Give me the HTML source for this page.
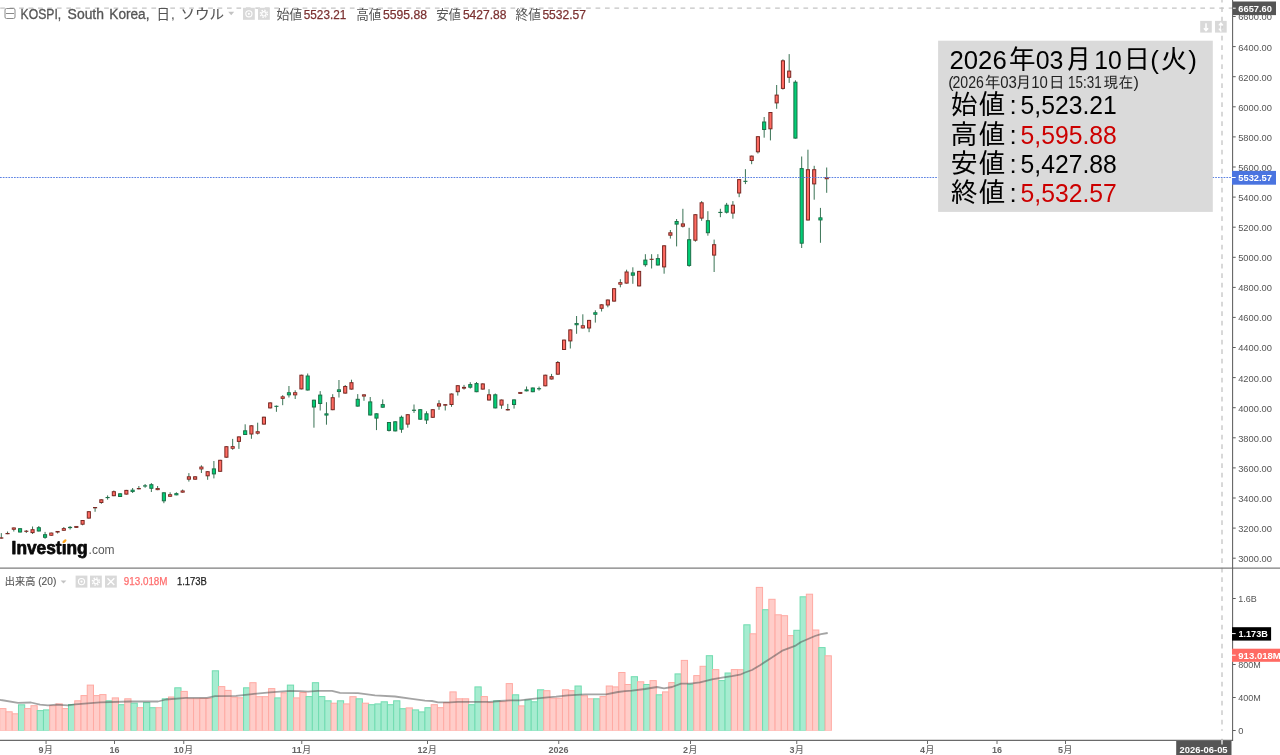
<!DOCTYPE html>
<html lang="ja"><head><meta charset="utf-8"><title>KOSPI, South Korea</title>
<style>
html,body{margin:0;padding:0;background:#fff;}
body{width:1280px;height:755px;overflow:hidden;position:relative;font-family:"Liberation Sans","Noto Sans CJK JP",sans-serif;}
svg{position:absolute;left:0;top:0;display:block}
text{font-family:"Liberation Sans","Noto Sans CJK JP",sans-serif;}
.ax{font-size:9.6px;fill:#555}
.axb{font-size:9.7px;fill:#fff;font-weight:bold}
.tm{font-size:9.8px;fill:#666;font-weight:bold;text-anchor:middle}
.lg{font-size:14px;fill:#555;stroke:#555;stroke-width:.3px}
.lk{font-size:12.8px;fill:#555}
.lv{font-size:12.4px;fill:#7b3030;stroke:#7b3030;stroke-width:.25px}
.vl{font-size:10.4px;fill:#555;stroke:#555;stroke-width:.12px}
.box text{font-family:"Liberation Sans","IPAGothic",sans-serif;fill:#000}
.rw{stroke:#3a7355;stroke-width:1}
.rb{fill:#ff6b62;stroke:#7a2823;stroke-width:1}
.gb{fill:#00cf76;stroke:#1c6e47;stroke-width:1}
.vr{fill:#ffcdc9;stroke:#ffaaa3;stroke-width:1}
.vg{fill:#a6ecd0;stroke:#70dcb0;stroke-width:1}
</style></head><body>
<svg width="1280" height="755" viewBox="0 0 1280 755">
<rect width="1280" height="755" fill="#fff"/>
<g stroke="#c4c4c4" stroke-width="1.3" stroke-dasharray="4.7 4.75" fill="none">
<line x1="0.2" y1="8.2" x2="1232" y2="8.2"/>
<line x1="1222" y1="-2.3" x2="1222" y2="740" stroke-dasharray="4.7 4.8"/>
</g>
<g>
<rect class="vr" x="-0.30" y="708.6" width="6.25" height="22.2"/>
<rect class="vr" x="5.95" y="711.8" width="6.25" height="19.0"/>
<rect class="vr" x="12.21" y="713.8" width="6.25" height="17.0"/>
<rect class="vg" x="18.46" y="704.8" width="6.25" height="26.0"/>
<rect class="vr" x="24.71" y="708.6" width="6.25" height="22.2"/>
<rect class="vr" x="30.96" y="705.7" width="6.25" height="25.1"/>
<rect class="vg" x="37.22" y="710.6" width="6.25" height="20.2"/>
<rect class="vg" x="43.47" y="709.9" width="6.25" height="20.9"/>
<rect class="vr" x="49.72" y="705.8" width="6.25" height="25.0"/>
<rect class="vr" x="55.98" y="703.9" width="6.25" height="26.9"/>
<rect class="vr" x="62.23" y="708.6" width="6.25" height="22.2"/>
<rect class="vg" x="68.48" y="704.5" width="6.25" height="26.3"/>
<rect class="vr" x="74.74" y="700.8" width="6.25" height="30.0"/>
<rect class="vr" x="80.99" y="695.6" width="6.25" height="35.2"/>
<rect class="vr" x="87.24" y="685.1" width="6.25" height="45.7"/>
<rect class="vr" x="93.50" y="695.6" width="6.25" height="35.2"/>
<rect class="vr" x="99.75" y="694.6" width="6.25" height="36.2"/>
<rect class="vg" x="106.00" y="700.8" width="6.25" height="30.0"/>
<rect class="vr" x="112.25" y="697.9" width="6.25" height="32.9"/>
<rect class="vg" x="118.51" y="704.7" width="6.25" height="26.1"/>
<rect class="vr" x="124.76" y="698.8" width="6.25" height="32.0"/>
<rect class="vg" x="131.01" y="703.2" width="6.25" height="27.6"/>
<rect class="vr" x="137.27" y="707.7" width="6.25" height="23.1"/>
<rect class="vg" x="143.52" y="702.6" width="6.25" height="28.2"/>
<rect class="vg" x="149.77" y="707.7" width="6.25" height="23.1"/>
<rect class="vr" x="156.03" y="707.7" width="6.25" height="23.1"/>
<rect class="vg" x="162.28" y="698.8" width="6.25" height="32.0"/>
<rect class="vr" x="168.53" y="697.0" width="6.25" height="33.8"/>
<rect class="vg" x="174.78" y="687.8" width="6.25" height="43.0"/>
<rect class="vr" x="181.04" y="691.4" width="6.25" height="39.4"/>
<rect class="vr" x="187.29" y="698.8" width="6.25" height="32.0"/>
<rect class="vr" x="193.54" y="698.8" width="6.25" height="32.0"/>
<rect class="vr" x="199.80" y="698.4" width="6.25" height="32.4"/>
<rect class="vr" x="206.05" y="698.4" width="6.25" height="32.4"/>
<rect class="vg" x="212.30" y="670.8" width="6.25" height="60.0"/>
<rect class="vr" x="218.56" y="686.6" width="6.25" height="44.2"/>
<rect class="vr" x="224.81" y="690.4" width="6.25" height="40.4"/>
<rect class="vr" x="231.06" y="697.2" width="6.25" height="33.6"/>
<rect class="vr" x="237.31" y="697.8" width="6.25" height="33.0"/>
<rect class="vg" x="243.57" y="687.8" width="6.25" height="43.0"/>
<rect class="vr" x="249.82" y="682.7" width="6.25" height="48.1"/>
<rect class="vr" x="256.07" y="696.7" width="6.25" height="34.1"/>
<rect class="vr" x="262.33" y="696.7" width="6.25" height="34.1"/>
<rect class="vr" x="268.58" y="688.6" width="6.25" height="42.2"/>
<rect class="vg" x="274.83" y="697.9" width="6.25" height="32.9"/>
<rect class="vr" x="281.08" y="692.8" width="6.25" height="38.0"/>
<rect class="vg" x="287.34" y="685.1" width="6.25" height="45.7"/>
<rect class="vr" x="293.59" y="697.9" width="6.25" height="32.9"/>
<rect class="vr" x="299.84" y="692.5" width="6.25" height="38.3"/>
<rect class="vg" x="306.10" y="696.6" width="6.25" height="34.2"/>
<rect class="vg" x="312.35" y="682.7" width="6.25" height="48.1"/>
<rect class="vg" x="318.60" y="696.6" width="6.25" height="34.2"/>
<rect class="vg" x="324.86" y="700.8" width="6.25" height="30.0"/>
<rect class="vr" x="331.11" y="703.2" width="6.25" height="27.6"/>
<rect class="vg" x="337.36" y="700.8" width="6.25" height="30.0"/>
<rect class="vr" x="343.62" y="703.9" width="6.25" height="26.9"/>
<rect class="vr" x="349.87" y="696.7" width="6.25" height="34.1"/>
<rect class="vg" x="356.12" y="698.8" width="6.25" height="32.0"/>
<rect class="vr" x="362.37" y="703.2" width="6.25" height="27.6"/>
<rect class="vg" x="368.63" y="704.7" width="6.25" height="26.1"/>
<rect class="vg" x="374.88" y="703.9" width="6.25" height="26.9"/>
<rect class="vg" x="381.13" y="701.8" width="6.25" height="29.0"/>
<rect class="vg" x="387.39" y="704.7" width="6.25" height="26.1"/>
<rect class="vg" x="393.64" y="700.8" width="6.25" height="30.0"/>
<rect class="vg" x="399.89" y="708.7" width="6.25" height="22.1"/>
<rect class="vr" x="406.14" y="707.9" width="6.25" height="22.9"/>
<rect class="vg" x="412.40" y="709.9" width="6.25" height="20.9"/>
<rect class="vg" x="418.65" y="711.9" width="6.25" height="18.9"/>
<rect class="vg" x="424.90" y="707.7" width="6.25" height="23.1"/>
<rect class="vr" x="431.16" y="704.7" width="6.25" height="26.1"/>
<rect class="vr" x="437.41" y="707.7" width="6.25" height="23.1"/>
<rect class="vr" x="443.66" y="702.6" width="6.25" height="28.2"/>
<rect class="vr" x="449.92" y="691.9" width="6.25" height="38.9"/>
<rect class="vr" x="456.17" y="698.8" width="6.25" height="32.0"/>
<rect class="vr" x="462.42" y="698.8" width="6.25" height="32.0"/>
<rect class="vg" x="468.68" y="704.7" width="6.25" height="26.1"/>
<rect class="vg" x="474.93" y="686.9" width="6.25" height="43.9"/>
<rect class="vr" x="481.18" y="696.6" width="6.25" height="34.2"/>
<rect class="vr" x="487.43" y="702.6" width="6.25" height="28.2"/>
<rect class="vg" x="493.69" y="700.8" width="6.25" height="30.0"/>
<rect class="vr" x="499.94" y="701.8" width="6.25" height="29.0"/>
<rect class="vr" x="506.19" y="683.6" width="6.25" height="47.2"/>
<rect class="vg" x="512.45" y="694.8" width="6.25" height="36.0"/>
<rect class="vr" x="518.70" y="705.9" width="6.25" height="24.9"/>
<rect class="vg" x="524.95" y="700.0" width="6.25" height="30.8"/>
<rect class="vg" x="531.20" y="701.8" width="6.25" height="29.0"/>
<rect class="vg" x="537.46" y="689.8" width="6.25" height="41.0"/>
<rect class="vr" x="543.71" y="690.7" width="6.25" height="40.1"/>
<rect class="vr" x="549.96" y="698.2" width="6.25" height="32.6"/>
<rect class="vr" x="556.22" y="698.2" width="6.25" height="32.6"/>
<rect class="vr" x="562.47" y="689.8" width="6.25" height="41.0"/>
<rect class="vr" x="568.72" y="690.7" width="6.25" height="40.1"/>
<rect class="vg" x="574.98" y="686.0" width="6.25" height="44.8"/>
<rect class="vr" x="581.23" y="695.8" width="6.25" height="35.0"/>
<rect class="vr" x="587.48" y="698.8" width="6.25" height="32.0"/>
<rect class="vg" x="593.73" y="698.8" width="6.25" height="32.0"/>
<rect class="vr" x="599.99" y="696.6" width="6.25" height="34.2"/>
<rect class="vr" x="606.24" y="686.0" width="6.25" height="44.8"/>
<rect class="vr" x="612.49" y="686.9" width="6.25" height="43.9"/>
<rect class="vr" x="618.75" y="672.5" width="6.25" height="58.3"/>
<rect class="vr" x="625.00" y="684.5" width="6.25" height="46.3"/>
<rect class="vg" x="631.25" y="676.7" width="6.25" height="54.1"/>
<rect class="vr" x="637.51" y="681.8" width="6.25" height="49.0"/>
<rect class="vg" x="643.76" y="684.5" width="6.25" height="46.3"/>
<rect class="vr" x="650.01" y="680.6" width="6.25" height="50.2"/>
<rect class="vg" x="656.26" y="694.8" width="6.25" height="36.0"/>
<rect class="vr" x="662.52" y="691.9" width="6.25" height="38.9"/>
<rect class="vr" x="668.77" y="682.6" width="6.25" height="48.2"/>
<rect class="vg" x="675.02" y="673.9" width="6.25" height="56.9"/>
<rect class="vr" x="681.28" y="660.4" width="6.25" height="70.4"/>
<rect class="vg" x="687.53" y="684.2" width="6.25" height="46.6"/>
<rect class="vr" x="693.78" y="675.6" width="6.25" height="55.2"/>
<rect class="vr" x="700.04" y="666.3" width="6.25" height="64.5"/>
<rect class="vg" x="706.29" y="655.7" width="6.25" height="75.1"/>
<rect class="vr" x="712.54" y="669.6" width="6.25" height="61.2"/>
<rect class="vg" x="718.79" y="680.6" width="6.25" height="50.2"/>
<rect class="vg" x="725.05" y="673.0" width="6.25" height="57.8"/>
<rect class="vr" x="731.30" y="669.6" width="6.25" height="61.2"/>
<rect class="vr" x="737.55" y="669.7" width="6.25" height="61.1"/>
<rect class="vg" x="743.81" y="624.8" width="6.25" height="106.0"/>
<rect class="vr" x="750.06" y="633.8" width="6.25" height="97.0"/>
<rect class="vr" x="756.31" y="587.4" width="6.25" height="143.4"/>
<rect class="vg" x="762.57" y="609.7" width="6.25" height="121.1"/>
<rect class="vr" x="768.82" y="599.3" width="6.25" height="131.5"/>
<rect class="vr" x="775.07" y="614.8" width="6.25" height="116.0"/>
<rect class="vr" x="781.32" y="615.7" width="6.25" height="115.1"/>
<rect class="vr" x="787.58" y="635.6" width="6.25" height="95.2"/>
<rect class="vg" x="793.83" y="630.3" width="6.25" height="100.5"/>
<rect class="vg" x="800.08" y="596.8" width="6.25" height="134.0"/>
<rect class="vr" x="806.34" y="594.2" width="6.25" height="136.6"/>
<rect class="vr" x="812.59" y="630.0" width="6.25" height="100.8"/>
<rect class="vg" x="818.84" y="647.6" width="6.25" height="83.2"/>
<rect class="vr" x="825.10" y="655.8" width="6.25" height="75.0"/>
</g>
<rect x="0" y="730.8" width="1232" height="5" fill="#fff"/>
<polyline points="0.0,699.8 1.0,700.0 18.0,702.8 31.0,702.5 40.0,704.7 48.0,705.3 56.0,704.7 68.0,705.3 75.0,704.4 100.0,702.4 130.0,701.5 158.0,701.5 166.0,699.5 186.0,697.9 207.0,697.9 215.0,696.2 236.0,695.9 250.0,694.3 270.0,692.3 290.0,690.9 300.0,691.1 308.0,691.7 318.0,690.8 332.0,690.8 340.0,692.9 358.0,693.1 375.0,695.3 395.0,696.5 412.0,698.9 425.0,700.7 432.0,701.0 438.0,702.4 450.0,702.4 458.0,701.8 475.0,701.8 490.0,701.8 500.0,701.0 510.0,700.4 520.0,700.4 530.0,699.1 545.0,697.7 556.0,696.7 568.0,695.3 585.0,694.3 606.0,694.3 618.0,692.0 625.0,691.1 632.0,690.7 645.0,689.0 657.0,687.0 664.0,688.3 672.0,687.0 681.0,683.7 690.0,683.7 700.0,682.4 712.0,679.3 722.0,677.7 732.0,676.2 740.0,674.7 745.0,672.5 752.0,670.0 760.0,665.2 770.0,658.7 783.0,650.3 795.0,645.9 801.0,642.0 808.0,639.0 815.0,636.0 821.0,634.2 827.7,633.0" fill="none" stroke="#505050" stroke-opacity="0.52" stroke-width="1.8" stroke-linejoin="round"/>
<g>
<line class="rw" x1="1.30" x2="1.30" y1="533.1" y2="538.6"/>
<rect class="rb" style="stroke-width:.85" x="-0.32" y="537.8" width="3.24" height="0.4"/>
<line class="rw" x1="7.55" x2="7.55" y1="531.5" y2="534.2"/>
<rect class="rb" style="stroke-width:.85" x="5.93" y="533.4" width="3.24" height="0.4"/>
<line class="rw" x1="13.81" x2="13.81" y1="527.5" y2="531.5"/>
<rect class="rb" style="stroke-width:.85" x="12.19" y="527.9" width="3.24" height="1.4"/>
<line class="rw" x1="20.06" x2="20.06" y1="528.2" y2="532.5"/>
<rect class="gb" x="18.51" y="528.7" width="3.1" height="3.3"/>
<line class="rw" x1="26.31" x2="26.31" y1="530.0" y2="533.0"/>
<rect class="rb" style="stroke-width:.85" x="24.69" y="531.1" width="3.24" height="0.3"/>
<line class="rw" x1="32.56" x2="32.56" y1="526.5" y2="534.0"/>
<rect class="rb" x="31.01" y="529.7" width="3.1" height="2.9"/>
<line class="rw" x1="38.82" x2="38.82" y1="526.0" y2="531.5"/>
<rect class="gb" x="37.27" y="527.7" width="3.1" height="3.3"/>
<line class="rw" x1="45.07" x2="45.07" y1="531.9" y2="538.8"/>
<rect class="gb" x="43.52" y="534.7" width="3.1" height="2.6"/>
<line class="rw" x1="51.32" x2="51.32" y1="532.6" y2="535.8"/>
<rect class="rb" style="stroke-width:.85" x="49.70" y="533.0" width="3.24" height="2.3"/>
<line class="rw" x1="57.58" x2="57.58" y1="531.0" y2="533.5"/>
<rect class="rb" style="stroke-width:.85" x="55.96" y="531.4" width="3.24" height="0.7"/>
<line class="rw" x1="63.83" x2="63.83" y1="527.0" y2="530.8"/>
<rect class="rb" style="stroke-width:.85" x="62.21" y="528.6" width="3.24" height="1.7"/>
<line class="rw" x1="70.08" x2="70.08" y1="526.0" y2="529.5"/>
<rect class="gb" style="stroke-width:.85" x="68.46" y="527.3" width="3.24" height="0.4"/>
<line class="rw" x1="76.34" x2="76.34" y1="526.0" y2="528.0"/>
<rect class="rb" style="stroke-width:.85" x="74.72" y="526.4" width="3.24" height="1.1"/>
<line class="rw" x1="82.59" x2="82.59" y1="520.0" y2="525.3"/>
<rect class="rb" x="81.04" y="520.5" width="3.1" height="3.7"/>
<line class="rw" x1="88.84" x2="88.84" y1="511.2" y2="518.6"/>
<rect class="rb" x="87.29" y="511.7" width="3.1" height="6.4"/>
<line class="rw" x1="95.09" x2="95.09" y1="507.1" y2="511.8"/>
<rect class="rb" style="stroke-width:.85" x="93.47" y="507.5" width="3.24" height="0.4"/>
<line class="rw" x1="101.35" x2="101.35" y1="499.3" y2="503.8"/>
<rect class="rb" x="99.80" y="499.8" width="3.1" height="2.7"/>
<line class="rw" x1="107.60" x2="107.60" y1="495.4" y2="499.7"/>
<rect class="gb" style="stroke-width:.85" x="105.98" y="497.4" width="3.24" height="0.3"/>
<line class="rw" x1="113.85" x2="113.85" y1="490.5" y2="496.2"/>
<rect class="rb" x="112.30" y="491.7" width="3.1" height="4.0"/>
<line class="rw" x1="120.11" x2="120.11" y1="493.3" y2="497.0"/>
<rect class="gb" x="118.56" y="493.8" width="3.1" height="2.7"/>
<line class="rw" x1="126.36" x2="126.36" y1="489.9" y2="494.6"/>
<rect class="rb" x="124.81" y="490.4" width="3.1" height="3.7"/>
<line class="rw" x1="132.61" x2="132.61" y1="488.0" y2="493.0"/>
<rect class="gb" style="stroke-width:.85" x="130.99" y="490.1" width="3.24" height="1.5"/>
<line class="rw" x1="138.87" x2="138.87" y1="486.0" y2="489.4"/>
<rect class="rb" style="stroke-width:.85" x="137.25" y="488.5" width="3.24" height="0.4"/>
<line class="rw" x1="145.12" x2="145.12" y1="484.0" y2="487.8"/>
<rect class="gb" style="stroke-width:.85" x="143.50" y="485.8" width="3.24" height="0.3"/>
<line class="rw" x1="151.37" x2="151.37" y1="483.1" y2="492.0"/>
<rect class="gb" x="149.82" y="484.7" width="3.1" height="3.6"/>
<line class="rw" x1="157.62" x2="157.62" y1="486.0" y2="490.2"/>
<rect class="rb" style="stroke-width:.85" x="156.00" y="488.5" width="3.24" height="1.2"/>
<line class="rw" x1="163.88" x2="163.88" y1="492.3" y2="503.2"/>
<rect class="gb" x="162.33" y="492.8" width="3.1" height="8.0"/>
<line class="rw" x1="170.13" x2="170.13" y1="492.3" y2="496.8"/>
<rect class="rb" style="stroke-width:.85" x="168.51" y="494.7" width="3.24" height="1.6"/>
<line class="rw" x1="176.38" x2="176.38" y1="492.3" y2="495.3"/>
<rect class="gb" style="stroke-width:.85" x="174.76" y="493.6" width="3.24" height="1.3"/>
<line class="rw" x1="182.64" x2="182.64" y1="489.5" y2="492.7"/>
<rect class="rb" style="stroke-width:.85" x="181.02" y="490.9" width="3.24" height="1.3"/>
<line class="rw" x1="188.89" x2="188.89" y1="473.1" y2="481.6"/>
<rect class="rb" x="187.34" y="476.8" width="3.1" height="2.4"/>
<line class="rw" x1="195.14" x2="195.14" y1="476.2" y2="479.6"/>
<rect class="rb" x="193.59" y="476.8" width="3.1" height="2.4"/>
<line class="rw" x1="201.40" x2="201.40" y1="465.3" y2="473.0"/>
<rect class="rb" style="stroke-width:.85" x="199.78" y="467.0" width="3.24" height="2.0"/>
<line class="rw" x1="207.65" x2="207.65" y1="471.2" y2="479.8"/>
<rect class="rb" x="206.10" y="471.7" width="3.1" height="4.1"/>
<line class="rw" x1="213.90" x2="213.90" y1="461.0" y2="478.4"/>
<rect class="gb" x="212.35" y="468.9" width="3.1" height="5.0"/>
<line class="rw" x1="220.16" x2="220.16" y1="459.8" y2="471.8"/>
<rect class="rb" x="218.61" y="460.3" width="3.1" height="11.0"/>
<line class="rw" x1="226.41" x2="226.41" y1="446.2" y2="457.7"/>
<rect class="rb" x="224.86" y="446.7" width="3.1" height="10.5"/>
<line class="rw" x1="232.66" x2="232.66" y1="438.9" y2="449.8"/>
<rect class="rb" style="stroke-width:.85" x="231.04" y="446.6" width="3.24" height="1.7"/>
<line class="rw" x1="238.91" x2="238.91" y1="436.4" y2="448.9"/>
<rect class="rb" x="237.36" y="436.9" width="3.1" height="4.5"/>
<line class="rw" x1="245.17" x2="245.17" y1="424.3" y2="435.0"/>
<rect class="gb" x="243.62" y="430.8" width="3.1" height="3.7"/>
<line class="rw" x1="251.42" x2="251.42" y1="425.3" y2="438.8"/>
<rect class="rb" x="249.87" y="425.8" width="3.1" height="8.2"/>
<line class="rw" x1="257.67" x2="257.67" y1="422.7" y2="434.5"/>
<rect class="rb" style="stroke-width:.85" x="256.05" y="431.7" width="3.24" height="1.5"/>
<line class="rw" x1="263.93" x2="263.93" y1="416.7" y2="424.6"/>
<rect class="rb" x="262.38" y="417.2" width="3.1" height="6.9"/>
<line class="rw" x1="270.18" x2="270.18" y1="402.4" y2="408.4"/>
<rect class="rb" x="268.63" y="402.9" width="3.1" height="5.0"/>
<line class="rw" x1="276.43" x2="276.43" y1="405.5" y2="411.8"/>
<rect class="gb" style="stroke-width:.85" x="274.81" y="406.2" width="3.24" height="0.3"/>
<line class="rw" x1="282.69" x2="282.69" y1="395.2" y2="405.2"/>
<rect class="rb" style="stroke-width:.85" x="281.06" y="396.8" width="3.24" height="1.6"/>
<line class="rw" x1="288.94" x2="288.94" y1="386.0" y2="397.5"/>
<rect class="gb" style="stroke-width:.85" x="287.32" y="392.7" width="3.24" height="2.2"/>
<line class="rw" x1="295.19" x2="295.19" y1="390.3" y2="399.0"/>
<rect class="rb" style="stroke-width:.85" x="293.57" y="392.7" width="3.24" height="2.2"/>
<line class="rw" x1="301.44" x2="301.44" y1="374.7" y2="389.4"/>
<rect class="rb" x="299.89" y="375.2" width="3.1" height="13.7"/>
<line class="rw" x1="307.70" x2="307.70" y1="373.5" y2="390.5"/>
<rect class="gb" x="306.15" y="376.0" width="3.1" height="14.0"/>
<line class="rw" x1="313.95" x2="313.95" y1="399.7" y2="427.7"/>
<rect class="gb" x="312.40" y="400.2" width="3.1" height="6.8"/>
<line class="rw" x1="320.20" x2="320.20" y1="391.1" y2="410.5"/>
<rect class="gb" x="318.65" y="395.1" width="3.1" height="8.4"/>
<line class="rw" x1="326.46" x2="326.46" y1="402.2" y2="424.7"/>
<rect class="gb" style="stroke-width:.85" x="324.84" y="413.8" width="3.24" height="1.3"/>
<line class="rw" x1="332.71" x2="332.71" y1="394.2" y2="410.2"/>
<rect class="rb" x="331.16" y="397.7" width="3.1" height="12.0"/>
<line class="rw" x1="338.96" x2="338.96" y1="380.0" y2="397.5"/>
<rect class="gb" style="stroke-width:.85" x="337.34" y="389.8" width="3.24" height="1.8"/>
<line class="rw" x1="345.22" x2="345.22" y1="385.0" y2="393.6"/>
<rect class="rb" x="343.67" y="386.5" width="3.1" height="6.6"/>
<line class="rw" x1="351.47" x2="351.47" y1="379.7" y2="389.6"/>
<rect class="rb" x="349.92" y="382.7" width="3.1" height="6.4"/>
<line class="rw" x1="357.72" x2="357.72" y1="394.1" y2="406.6"/>
<rect class="gb" x="356.17" y="399.3" width="3.1" height="6.8"/>
<line class="rw" x1="363.97" x2="363.97" y1="394.4" y2="400.8"/>
<rect class="rb" style="stroke-width:.85" x="362.35" y="394.8" width="3.24" height="1.3"/>
<line class="rw" x1="370.23" x2="370.23" y1="397.0" y2="415.5"/>
<rect class="gb" x="368.68" y="401.9" width="3.1" height="13.1"/>
<line class="rw" x1="376.48" x2="376.48" y1="413.3" y2="430.1"/>
<rect class="gb" x="374.93" y="413.8" width="3.1" height="4.3"/>
<line class="rw" x1="382.73" x2="382.73" y1="399.4" y2="407.7"/>
<rect class="gb" x="381.18" y="404.6" width="3.1" height="2.6"/>
<line class="rw" x1="388.99" x2="388.99" y1="422.0" y2="431.5"/>
<rect class="gb" x="387.44" y="422.5" width="3.1" height="7.9"/>
<line class="rw" x1="395.24" x2="395.24" y1="421.2" y2="431.4"/>
<rect class="gb" x="393.69" y="421.8" width="3.1" height="9.1"/>
<line class="rw" x1="401.49" x2="401.49" y1="415.6" y2="432.8"/>
<rect class="gb" x="399.94" y="417.3" width="3.1" height="11.9"/>
<line class="rw" x1="407.75" x2="407.75" y1="414.2" y2="427.7"/>
<rect class="rb" x="406.19" y="414.7" width="3.1" height="9.4"/>
<line class="rw" x1="414.00" x2="414.00" y1="404.5" y2="412.9"/>
<rect class="gb" style="stroke-width:.85" x="412.38" y="410.1" width="3.24" height="0.3"/>
<line class="rw" x1="420.25" x2="420.25" y1="409.2" y2="419.7"/>
<rect class="gb" x="418.70" y="409.7" width="3.1" height="9.5"/>
<line class="rw" x1="426.50" x2="426.50" y1="411.3" y2="424.0"/>
<rect class="gb" x="424.95" y="413.8" width="3.1" height="6.2"/>
<line class="rw" x1="432.76" x2="432.76" y1="409.2" y2="417.8"/>
<rect class="rb" x="431.21" y="409.7" width="3.1" height="7.6"/>
<line class="rw" x1="439.01" x2="439.01" y1="400.2" y2="409.8"/>
<rect class="rb" x="437.46" y="403.8" width="3.1" height="2.3"/>
<line class="rw" x1="445.26" x2="445.26" y1="404.2" y2="410.5"/>
<rect class="rb" style="stroke-width:.85" x="443.64" y="404.6" width="3.24" height="0.6"/>
<line class="rw" x1="451.52" x2="451.52" y1="393.5" y2="406.8"/>
<rect class="rb" x="449.97" y="394.0" width="3.1" height="10.5"/>
<line class="rw" x1="457.77" x2="457.77" y1="385.2" y2="395.6"/>
<rect class="rb" x="456.22" y="385.7" width="3.1" height="6.0"/>
<line class="rw" x1="464.02" x2="464.02" y1="384.9" y2="389.6"/>
<rect class="rb" style="stroke-width:.85" x="462.40" y="387.3" width="3.24" height="0.9"/>
<line class="rw" x1="470.28" x2="470.28" y1="382.2" y2="388.6"/>
<rect class="gb" x="468.73" y="384.6" width="3.1" height="2.6"/>
<line class="rw" x1="476.53" x2="476.53" y1="382.0" y2="392.2"/>
<rect class="gb" x="474.98" y="383.6" width="3.1" height="8.1"/>
<line class="rw" x1="482.78" x2="482.78" y1="383.4" y2="389.6"/>
<rect class="rb" x="481.23" y="383.9" width="3.1" height="5.2"/>
<line class="rw" x1="489.03" x2="489.03" y1="389.2" y2="400.5"/>
<rect class="rb" x="487.48" y="394.8" width="3.1" height="5.2"/>
<line class="rw" x1="495.29" x2="495.29" y1="393.5" y2="408.4"/>
<rect class="gb" x="493.74" y="394.8" width="3.1" height="13.1"/>
<line class="rw" x1="501.54" x2="501.54" y1="399.5" y2="408.8"/>
<rect class="rb" x="499.99" y="400.0" width="3.1" height="5.1"/>
<line class="rw" x1="507.79" x2="507.79" y1="403.9" y2="410.5"/>
<rect class="rb" style="stroke-width:.85" x="506.17" y="409.5" width="3.24" height="0.5"/>
<line class="rw" x1="514.05" x2="514.05" y1="399.4" y2="408.6"/>
<rect class="gb" x="512.50" y="399.9" width="3.1" height="4.6"/>
<line class="rw" x1="520.30" x2="520.30" y1="392.0" y2="394.0"/>
<rect class="rb" style="stroke-width:.85" x="518.68" y="392.4" width="3.24" height="1.1"/>
<line class="rw" x1="526.55" x2="526.55" y1="386.5" y2="391.4"/>
<rect class="gb" style="stroke-width:.85" x="524.93" y="389.8" width="3.24" height="1.1"/>
<line class="rw" x1="532.80" x2="532.80" y1="387.5" y2="392.2"/>
<rect class="gb" x="531.25" y="388.0" width="3.1" height="3.7"/>
<line class="rw" x1="539.06" x2="539.06" y1="386.6" y2="390.6"/>
<rect class="gb" style="stroke-width:.85" x="537.44" y="388.6" width="3.24" height="0.3"/>
<line class="rw" x1="545.31" x2="545.31" y1="374.7" y2="386.3"/>
<rect class="rb" x="543.76" y="375.2" width="3.1" height="10.6"/>
<line class="rw" x1="551.56" x2="551.56" y1="373.9" y2="379.5"/>
<rect class="rb" x="550.01" y="376.7" width="3.1" height="2.3"/>
<line class="rw" x1="557.82" x2="557.82" y1="361.0" y2="374.7"/>
<rect class="rb" x="556.27" y="362.5" width="3.1" height="11.7"/>
<line class="rw" x1="564.07" x2="564.07" y1="339.6" y2="350.0"/>
<rect class="rb" x="562.52" y="340.1" width="3.1" height="9.4"/>
<line class="rw" x1="570.32" x2="570.32" y1="329.4" y2="348.5"/>
<rect class="rb" x="568.77" y="329.9" width="3.1" height="11.0"/>
<line class="rw" x1="576.58" x2="576.58" y1="316.0" y2="333.8"/>
<rect class="gb" style="stroke-width:.85" x="574.96" y="323.5" width="3.24" height="1.3"/>
<line class="rw" x1="582.83" x2="582.83" y1="314.3" y2="328.5"/>
<rect class="rb" style="stroke-width:.85" x="581.21" y="325.7" width="3.24" height="2.3"/>
<line class="rw" x1="589.08" x2="589.08" y1="319.9" y2="332.2"/>
<rect class="rb" x="587.53" y="320.4" width="3.1" height="7.6"/>
<line class="rw" x1="595.33" x2="595.33" y1="310.3" y2="322.6"/>
<rect class="gb" style="stroke-width:.85" x="593.71" y="312.7" width="3.24" height="1.6"/>
<line class="rw" x1="601.59" x2="601.59" y1="304.3" y2="311.5"/>
<rect class="rb" x="600.04" y="304.8" width="3.1" height="3.5"/>
<line class="rw" x1="607.84" x2="607.84" y1="299.5" y2="307.3"/>
<rect class="rb" x="606.29" y="300.0" width="3.1" height="5.0"/>
<line class="rw" x1="614.09" x2="614.09" y1="288.2" y2="301.6"/>
<rect class="rb" x="612.54" y="288.7" width="3.1" height="12.4"/>
<line class="rw" x1="620.35" x2="620.35" y1="279.2" y2="287.3"/>
<rect class="rb" style="stroke-width:.85" x="618.73" y="282.6" width="3.24" height="1.6"/>
<line class="rw" x1="626.60" x2="626.60" y1="269.7" y2="283.6"/>
<rect class="rb" x="625.05" y="272.0" width="3.1" height="11.1"/>
<line class="rw" x1="632.85" x2="632.85" y1="267.3" y2="283.8"/>
<rect class="gb" x="631.30" y="272.9" width="3.1" height="2.3"/>
<line class="rw" x1="639.11" x2="639.11" y1="270.9" y2="286.4"/>
<rect class="rb" x="637.56" y="271.4" width="3.1" height="14.5"/>
<line class="rw" x1="645.36" x2="645.36" y1="254.2" y2="266.7"/>
<rect class="gb" x="643.81" y="260.1" width="3.1" height="4.6"/>
<line class="rw" x1="651.61" x2="651.61" y1="254.2" y2="268.5"/>
<rect class="rb" style="stroke-width:.85" x="649.99" y="259.2" width="3.24" height="0.3"/>
<line class="rw" x1="657.87" x2="657.87" y1="254.2" y2="265.5"/>
<rect class="gb" x="656.32" y="258.6" width="3.1" height="6.4"/>
<line class="rw" x1="664.12" x2="664.12" y1="245.3" y2="273.7"/>
<rect class="rb" x="662.57" y="245.8" width="3.1" height="21.1"/>
<line class="rw" x1="670.37" x2="670.37" y1="230.0" y2="238.6"/>
<rect class="rb" x="668.82" y="232.8" width="3.1" height="2.4"/>
<line class="rw" x1="676.62" x2="676.62" y1="219.0" y2="246.4"/>
<rect class="gb" x="675.07" y="221.5" width="3.1" height="2.6"/>
<line class="rw" x1="682.88" x2="682.88" y1="208.8" y2="227.5"/>
<rect class="rb" x="681.33" y="223.9" width="3.1" height="2.3"/>
<line class="rw" x1="689.13" x2="689.13" y1="227.8" y2="266.8"/>
<rect class="gb" x="687.58" y="239.7" width="3.1" height="25.7"/>
<line class="rw" x1="695.38" x2="695.38" y1="214.2" y2="241.7"/>
<rect class="rb" x="693.83" y="214.7" width="3.1" height="25.5"/>
<line class="rw" x1="701.64" x2="701.64" y1="201.1" y2="220.8"/>
<rect class="rb" x="700.09" y="202.8" width="3.1" height="15.3"/>
<line class="rw" x1="707.89" x2="707.89" y1="211.2" y2="235.7"/>
<rect class="gb" x="706.34" y="220.7" width="3.1" height="12.0"/>
<line class="rw" x1="714.14" x2="714.14" y1="239.6" y2="272.0"/>
<rect class="rb" x="712.59" y="244.7" width="3.1" height="10.4"/>
<line class="rw" x1="720.39" x2="720.39" y1="208.8" y2="217.2"/>
<rect class="gb" style="stroke-width:.85" x="718.77" y="212.3" width="3.24" height="0.3"/>
<line class="rw" x1="726.65" x2="726.65" y1="202.9" y2="213.5"/>
<rect class="gb" x="725.10" y="205.2" width="3.1" height="7.0"/>
<line class="rw" x1="732.90" x2="732.90" y1="201.1" y2="218.7"/>
<rect class="rb" x="731.35" y="205.2" width="3.1" height="7.9"/>
<line class="rw" x1="739.15" x2="739.15" y1="179.1" y2="197.2"/>
<rect class="rb" x="737.60" y="179.6" width="3.1" height="13.4"/>
<line class="rw" x1="745.41" x2="745.41" y1="169.2" y2="184.1"/>
<rect class="gb" style="stroke-width:.85" x="743.79" y="181.2" width="3.24" height="0.3"/>
<line class="rw" x1="751.66" x2="751.66" y1="155.6" y2="164.2"/>
<rect class="rb" x="750.11" y="156.1" width="3.1" height="4.4"/>
<line class="rw" x1="757.91" x2="757.91" y1="136.2" y2="153.5"/>
<rect class="rb" x="756.36" y="136.7" width="3.1" height="15.1"/>
<line class="rw" x1="764.17" x2="764.17" y1="117.0" y2="137.7"/>
<rect class="gb" x="762.62" y="122.0" width="3.1" height="7.5"/>
<line class="rw" x1="770.42" x2="770.42" y1="112.0" y2="140.4"/>
<rect class="rb" x="768.87" y="112.5" width="3.1" height="16.3"/>
<line class="rw" x1="776.67" x2="776.67" y1="85.0" y2="108.8"/>
<rect class="rb" x="775.12" y="95.1" width="3.1" height="7.8"/>
<line class="rw" x1="782.92" x2="782.92" y1="59.3" y2="89.6"/>
<rect class="rb" x="781.38" y="60.8" width="3.1" height="27.6"/>
<line class="rw" x1="789.18" x2="789.18" y1="54.1" y2="82.9"/>
<rect class="rb" x="787.63" y="71.1" width="3.1" height="6.2"/>
<line class="rw" x1="795.43" x2="795.43" y1="80.3" y2="138.6"/>
<rect class="gb" x="793.88" y="82.2" width="3.1" height="55.9"/>
<line class="rw" x1="801.68" x2="801.68" y1="156.5" y2="248.0"/>
<rect class="gb" x="800.13" y="168.6" width="3.1" height="74.6"/>
<line class="rw" x1="807.94" x2="807.94" y1="149.7" y2="220.5"/>
<rect class="rb" x="806.39" y="169.7" width="3.1" height="50.3"/>
<line class="rw" x1="814.19" x2="814.19" y1="165.8" y2="199.7"/>
<rect class="rb" x="812.64" y="169.7" width="3.1" height="14.2"/>
<line class="rw" x1="820.44" x2="820.44" y1="207.9" y2="242.8"/>
<rect class="gb" style="stroke-width:.85" x="818.82" y="217.8" width="3.24" height="2.2"/>
<line class="rw" x1="826.70" x2="826.70" y1="167.5" y2="192.8"/>
<rect class="rb" style="stroke-width:.85" x="825.08" y="177.7" width="3.24" height="1.1"/>
</g>
<line x1="0" y1="177.5" x2="1232" y2="177.5" stroke="#4a74e0" stroke-opacity=".9" stroke-width="1" stroke-dasharray="1.7 1.1"/>
<line x1="0" y1="568.1" x2="1280" y2="568.1" stroke="#7d7d7d" stroke-width="1.2"/>
<line x1="0" y1="740.4" x2="1233" y2="740.4" stroke="#6a6a6a" stroke-width="1.1"/>
<line x1="1232.6" y1="0" x2="1232.6" y2="740.9" stroke="#5e5e5e" stroke-width="1.05"/>
<g stroke="#5e5e5e" stroke-width="1">
<line x1="1233" x2="1235.7" y1="558.2" y2="558.2"/>
<line x1="1233" x2="1235.7" y1="528.1" y2="528.1"/>
<line x1="1233" x2="1235.7" y1="498.0" y2="498.0"/>
<line x1="1233" x2="1235.7" y1="467.9" y2="467.9"/>
<line x1="1233" x2="1235.7" y1="437.8" y2="437.8"/>
<line x1="1233" x2="1235.7" y1="407.7" y2="407.7"/>
<line x1="1233" x2="1235.7" y1="377.6" y2="377.6"/>
<line x1="1233" x2="1235.7" y1="347.5" y2="347.5"/>
<line x1="1233" x2="1235.7" y1="317.4" y2="317.4"/>
<line x1="1233" x2="1235.7" y1="287.4" y2="287.4"/>
<line x1="1233" x2="1235.7" y1="257.3" y2="257.3"/>
<line x1="1233" x2="1235.7" y1="227.2" y2="227.2"/>
<line x1="1233" x2="1235.7" y1="197.1" y2="197.1"/>
<line x1="1233" x2="1235.7" y1="167.0" y2="167.0"/>
<line x1="1233" x2="1235.7" y1="136.9" y2="136.9"/>
<line x1="1233" x2="1235.7" y1="106.8" y2="106.8"/>
<line x1="1233" x2="1235.7" y1="76.7" y2="76.7"/>
<line x1="1233" x2="1235.7" y1="46.6" y2="46.6"/>
<line x1="1233" x2="1235.7" y1="16.5" y2="16.5"/>
<line x1="1233" x2="1235.7" y1="730.5" y2="730.5"/>
<line x1="1233" x2="1235.7" y1="697.5" y2="697.5"/>
<line x1="1233" x2="1235.7" y1="664.5" y2="664.5"/>
<line x1="1233" x2="1235.7" y1="631.5" y2="631.5"/>
<line x1="1233" x2="1235.7" y1="598.5" y2="598.5"/>
</g>
<text class="ax" x="1238.2" y="562.1" textLength="33.7" lengthAdjust="spacingAndGlyphs">3000.00</text>
<text class="ax" x="1238.2" y="532.0" textLength="33.7" lengthAdjust="spacingAndGlyphs">3200.00</text>
<text class="ax" x="1238.2" y="501.9" textLength="33.7" lengthAdjust="spacingAndGlyphs">3400.00</text>
<text class="ax" x="1238.2" y="471.8" textLength="33.7" lengthAdjust="spacingAndGlyphs">3600.00</text>
<text class="ax" x="1238.2" y="441.7" textLength="33.7" lengthAdjust="spacingAndGlyphs">3800.00</text>
<text class="ax" x="1238.2" y="411.6" textLength="33.7" lengthAdjust="spacingAndGlyphs">4000.00</text>
<text class="ax" x="1238.2" y="381.5" textLength="33.7" lengthAdjust="spacingAndGlyphs">4200.00</text>
<text class="ax" x="1238.2" y="351.4" textLength="33.7" lengthAdjust="spacingAndGlyphs">4400.00</text>
<text class="ax" x="1238.2" y="321.3" textLength="33.7" lengthAdjust="spacingAndGlyphs">4600.00</text>
<text class="ax" x="1238.2" y="291.3" textLength="33.7" lengthAdjust="spacingAndGlyphs">4800.00</text>
<text class="ax" x="1238.2" y="261.2" textLength="33.7" lengthAdjust="spacingAndGlyphs">5000.00</text>
<text class="ax" x="1238.2" y="231.1" textLength="33.7" lengthAdjust="spacingAndGlyphs">5200.00</text>
<text class="ax" x="1238.2" y="201.0" textLength="33.7" lengthAdjust="spacingAndGlyphs">5400.00</text>
<text class="ax" x="1238.2" y="170.9" textLength="33.7" lengthAdjust="spacingAndGlyphs">5600.00</text>
<text class="ax" x="1238.2" y="140.8" textLength="33.7" lengthAdjust="spacingAndGlyphs">5800.00</text>
<text class="ax" x="1238.2" y="110.7" textLength="33.7" lengthAdjust="spacingAndGlyphs">6000.00</text>
<text class="ax" x="1238.2" y="80.6" textLength="33.7" lengthAdjust="spacingAndGlyphs">6200.00</text>
<text class="ax" x="1238.2" y="50.5" textLength="33.7" lengthAdjust="spacingAndGlyphs">6400.00</text>
<text class="ax" x="1238.2" y="20.4" textLength="33.7" lengthAdjust="spacingAndGlyphs">6600.00</text>
<text class="ax" x="1238.3" y="734.4" textLength="5.2" lengthAdjust="spacingAndGlyphs">0</text>
<text class="ax" x="1238.3" y="701.4" textLength="22.6" lengthAdjust="spacingAndGlyphs">400M</text>
<text class="ax" x="1238.3" y="668.4" textLength="22.6" lengthAdjust="spacingAndGlyphs">800M</text>
<text class="ax" x="1238.3" y="602.4" textLength="18.5" lengthAdjust="spacingAndGlyphs">1.6B</text>
<g stroke="#6a6a6a" stroke-width="1">
<line x1="46.05" x2="46.05" y1="740.4" y2="744"/>
<line x1="114.5" x2="114.5" y1="740.4" y2="744"/>
<line x1="183.75" x2="183.75" y1="740.4" y2="744"/>
<line x1="301.75" x2="301.75" y1="740.4" y2="744"/>
<line x1="427.5" x2="427.5" y1="740.4" y2="744"/>
<line x1="558.75" x2="558.75" y1="740.4" y2="744"/>
<line x1="690.5" x2="690.5" y1="740.4" y2="744"/>
<line x1="796.75" x2="796.75" y1="740.4" y2="744"/>
<line x1="927.5" x2="927.5" y1="740.4" y2="744"/>
<line x1="997" x2="997" y1="740.4" y2="744"/>
<line x1="1065.5" x2="1065.5" y1="740.4" y2="744"/>
</g>
<text class="tm" y="753.2" style="text-anchor:start"><tspan x="38.6" textLength="5.0" lengthAdjust="spacingAndGlyphs">9</tspan><tspan x="44.1" style="font-size:8.8px;font-weight:500">月</tspan></text>
<text class="tm" y="753.2" style="text-anchor:start"><tspan x="109.4" textLength="10.0" lengthAdjust="spacingAndGlyphs">16</tspan></text>
<text class="tm" y="753.2" style="text-anchor:start"><tspan x="173.8" textLength="10.0" lengthAdjust="spacingAndGlyphs">10</tspan><tspan x="184.3" style="font-size:8.8px;font-weight:500">月</tspan></text>
<text class="tm" y="753.2" style="text-anchor:start"><tspan x="291.8" textLength="10.0" lengthAdjust="spacingAndGlyphs">11</tspan><tspan x="302.3" style="font-size:8.8px;font-weight:500">月</tspan></text>
<text class="tm" y="753.2" style="text-anchor:start"><tspan x="417.6" textLength="10.0" lengthAdjust="spacingAndGlyphs">12</tspan><tspan x="428.1" style="font-size:8.8px;font-weight:500">月</tspan></text>
<text class="tm" y="753.2" style="text-anchor:start"><tspan x="548.6" textLength="20.0" lengthAdjust="spacingAndGlyphs">2026</tspan></text>
<text class="tm" y="753.2" style="text-anchor:start"><tspan x="683.1" textLength="5.0" lengthAdjust="spacingAndGlyphs">2</tspan><tspan x="688.6" style="font-size:8.8px;font-weight:500">月</tspan></text>
<text class="tm" y="753.2" style="text-anchor:start"><tspan x="789.4" textLength="5.0" lengthAdjust="spacingAndGlyphs">3</tspan><tspan x="794.9" style="font-size:8.8px;font-weight:500">月</tspan></text>
<text class="tm" y="753.2" style="text-anchor:start"><tspan x="920.1" textLength="5.0" lengthAdjust="spacingAndGlyphs">4</tspan><tspan x="925.6" style="font-size:8.8px;font-weight:500">月</tspan></text>
<text class="tm" y="753.2" style="text-anchor:start"><tspan x="991.9" textLength="10.0" lengthAdjust="spacingAndGlyphs">16</tspan></text>
<text class="tm" y="753.2" style="text-anchor:start"><tspan x="1058.1" textLength="5.0" lengthAdjust="spacingAndGlyphs">5</tspan><tspan x="1063.6" style="font-size:8.8px;font-weight:500">月</tspan></text>
<rect x="1233" y="1.5" width="43" height="13.6" fill="#555"/>
<line x1="1233" x2="1235.7" y1="8.2" y2="8.2" stroke="#fff" stroke-width="1"/>
<text class="axb" x="1238.3" y="11.8" textLength="33.7" lengthAdjust="spacingAndGlyphs">6657.60</text>
<rect x="1232" y="170.9" width="44" height="13.8" fill="#4a74e0"/>
<line x1="1232" x2="1235.7" y1="177.5" y2="177.5" stroke="#fff" stroke-width="1"/>
<text class="axb" x="1238.3" y="181.2" textLength="33.7" lengthAdjust="spacingAndGlyphs">5532.57</text>
<rect x="1232" y="627.2" width="39.1" height="13.4" fill="#000"/>
<line x1="1232" x2="1235.7" y1="633.6" y2="633.6" stroke="#fff" stroke-width="1"/>
<text class="axb" x="1238.4" y="637.3" textLength="29.4" lengthAdjust="spacingAndGlyphs">1.173B</text>
<rect x="1232" y="648.7" width="48" height="13.1" fill="#ff6a63"/>
<line x1="1232" x2="1235.7" y1="655.2" y2="655.2" stroke="#fff" stroke-width="1"/>
<text class="axb" x="1238.3" y="658.9" textLength="42.5" lengthAdjust="spacingAndGlyphs">913.018M</text>
<rect x="1176.2" y="741" width="55.3" height="14" fill="#555"/>
<line x1="1222" x2="1222" y1="740" y2="744.5" stroke="#fff" stroke-width="1.2"/>
<text class="axb" x="1179.6" y="753.2" textLength="48" lengthAdjust="spacingAndGlyphs">2026-06-05</text>
<g class="box">
<rect x="938.1" y="40.7" width="274.7" height="171.2" fill="#dadada"/>
<text y="68.7"><tspan x="949.5" font-size="26" textLength="57.2" lengthAdjust="spacingAndGlyphs">2026</tspan><tspan x="1008.3" font-size="27.5">年</tspan><tspan x="1035.7" font-size="26" textLength="27.7" lengthAdjust="spacingAndGlyphs">03</tspan><tspan x="1064.9" font-size="27.5">月</tspan><tspan x="1094.2" font-size="26" textLength="27.5" lengthAdjust="spacingAndGlyphs">10</tspan><tspan x="1123.3" font-size="27.5">日</tspan><tspan x="1150.3" font-size="26">(</tspan><tspan x="1159.8" font-size="27.5">火</tspan><tspan x="1188.3" font-size="26">)</tspan></text>
<text y="87.9" style="fill:#222"><tspan x="948.2" font-size="16">(</tspan><tspan x="952.5" font-size="16" textLength="31.4" lengthAdjust="spacingAndGlyphs">2026</tspan><tspan x="984.5" font-size="16">年</tspan><tspan x="1000.2" font-size="16" textLength="16.6" lengthAdjust="spacingAndGlyphs">03</tspan><tspan x="1015.4" font-size="16">月</tspan><tspan x="1031.2" font-size="16" textLength="16.6" lengthAdjust="spacingAndGlyphs">10</tspan><tspan x="1048.8" font-size="16">日 </tspan><tspan x="1068.1" font-size="16" textLength="33.6" lengthAdjust="spacingAndGlyphs">15:31</tspan><tspan x="1103.6" font-size="15.5" textLength="29.6" lengthAdjust="spacingAndGlyphs">現在</tspan><tspan x="1133.4" font-size="16">)</tspan></text>
<text y="114.4"><tspan x="950.3" font-size="27.5">始</tspan><tspan x="978" font-size="27.5">値</tspan><tspan x="1009.5" font-size="26">:</tspan><tspan x="1020.6" font-size="26" textLength="96.2" lengthAdjust="spacingAndGlyphs" style="fill:#000">5,523.21</tspan></text>
<text y="143.6"><tspan x="950.3" font-size="27.5">高</tspan><tspan x="978" font-size="27.5">値</tspan><tspan x="1009.5" font-size="26">:</tspan><tspan x="1020.6" font-size="26" textLength="96.2" lengthAdjust="spacingAndGlyphs" style="fill:#cc0000">5,595.88</tspan></text>
<text y="172.9"><tspan x="950.3" font-size="27.5">安</tspan><tspan x="978" font-size="27.5">値</tspan><tspan x="1009.5" font-size="26">:</tspan><tspan x="1020.6" font-size="26" textLength="96.2" lengthAdjust="spacingAndGlyphs" style="fill:#000">5,427.88</tspan></text>
<text y="202.2"><tspan x="950.3" font-size="27.5">終</tspan><tspan x="978" font-size="27.5">値</tspan><tspan x="1009.5" font-size="26">:</tspan><tspan x="1020.6" font-size="26" textLength="96.2" lengthAdjust="spacingAndGlyphs" style="fill:#cc0000">5,532.57</tspan></text>
</g>
<rect x="1200.2" y="20.9" width="11.6" height="11.7" fill="#d9d9d9"/>
<path d="M1206 23.2V29.5M1203.9 28.2L1206 30.6L1208.1 28.2" stroke="#fff" stroke-width="1.5" fill="none"/>
<rect x="1215" y="20.9" width="11.7" height="11.7" fill="#d9d9d9"/>
<path d="M1220.9 24V30M1218.9 25.4L1220.9 23L1222.9 25.4M1218.9 28.6L1220.9 31L1222.9 28.6" stroke="#fff" stroke-width="1.4" fill="none"/>
<line x1="1222" y1="26.1" x2="1222" y2="30.8" stroke="#c9c9c9" stroke-width="1.2"/>
<rect x="5" y="8.5" width="10" height="10" rx="1.5" fill="none" stroke="#8a8a8a" stroke-width="1"/>
<line x1="6" x2="14" y1="13.5" y2="13.5" stroke="#8a8a8a" stroke-width="1"/>
<text class="lg" y="18.7"><tspan x="20.6" textLength="40.6" lengthAdjust="spacingAndGlyphs">KOSPI,</tspan> <tspan x="67.6" textLength="36.4" lengthAdjust="spacingAndGlyphs">South</tspan> <tspan x="109.3" textLength="40.2" lengthAdjust="spacingAndGlyphs">Korea,</tspan></text>
<text class="lg" y="18.6" style="stroke-width:.1px;font-size:13.4px"><tspan x="156.4">日</tspan><tspan x="171">,</tspan> <tspan x="180.4" textLength="43.6" lengthAdjust="spacingAndGlyphs">ソウル</tspan></text>
<path d="M228.2 11.8H234.2L231.2 15.2Z" fill="#c3c3c3"/>
<rect x="243" y="7.8" width="11.8" height="12" fill="#d9d9d9"/>
<circle cx="248.9" cy="13.8" r="3.1" fill="none" stroke="#fff" stroke-width="1.1"/><circle cx="248.9" cy="13.8" r="1.1" fill="#fff"/>
<rect x="258" y="7.8" width="11.8" height="12" fill="#d9d9d9"/>
<circle cx="263.9" cy="13.8" r="2.2" fill="none" stroke="#fff" stroke-width="1.2"/>
<circle cx="263.9" cy="13.8" r="3.6" fill="none" stroke="#fff" stroke-width="1.3" stroke-dasharray="1.41 1.41"/>
<text class="lk" x="276.4" y="18.6" textLength="25.8" lengthAdjust="spacingAndGlyphs">始値</text>
<text class="lv" x="303.8" y="18.7" textLength="42.5" lengthAdjust="spacingAndGlyphs">5523.21</text>
<text class="lk" x="356.2" y="18.6" textLength="25.2" lengthAdjust="spacingAndGlyphs">高値</text>
<text class="lv" x="383" y="18.7" textLength="44" lengthAdjust="spacingAndGlyphs">5595.88</text>
<text class="lk" x="436.2" y="18.6" textLength="24.8" lengthAdjust="spacingAndGlyphs">安値</text>
<text class="lv" x="462.9" y="18.7" textLength="43.6" lengthAdjust="spacingAndGlyphs">5427.88</text>
<text class="lk" x="515.6" y="18.6" textLength="25.4" lengthAdjust="spacingAndGlyphs">終値</text>
<text class="lv" x="542.4" y="18.7" textLength="43.6" lengthAdjust="spacingAndGlyphs">5532.57</text>
<text x="11.6" y="553.8" font-size="17.6" font-weight="bold" fill="#0a0a0a" stroke="#0a0a0a" stroke-width="0.75" stroke-linejoin="round" textLength="76" lengthAdjust="spacingAndGlyphs">Investing</text>
<text x="88.6" y="553.8" font-size="13.2" fill="#5a5a5a" textLength="26" lengthAdjust="spacingAndGlyphs">.com</text>
<rect x="61.6" y="539" width="5.4" height="5" fill="#fff"/>
<ellipse cx="64.5" cy="541.3" rx="2.5" ry="1.25" transform="rotate(-42 64.5 541.3)" fill="#ffa41c"/>
<text class="vl" x="4.8" y="585.2" textLength="51.5" lengthAdjust="spacingAndGlyphs">出来高 (20)</text>
<path d="M60.6 580.4H66.4L63.5 583.6Z" fill="#c3c3c3"/>
<rect x="75.6" y="575.6" width="11.8" height="12" fill="#d9d9d9"/>
<circle cx="81.5" cy="581.6" r="3.1" fill="none" stroke="#fff" stroke-width="1.1"/><circle cx="81.5" cy="581.6" r="1.1" fill="#fff"/>
<rect x="90" y="575.6" width="11.8" height="12" fill="#d9d9d9"/>
<circle cx="95.9" cy="581.6" r="2.2" fill="none" stroke="#fff" stroke-width="1.2"/>
<circle cx="95.9" cy="581.6" r="3.6" fill="none" stroke="#fff" stroke-width="1.3" stroke-dasharray="1.41 1.41"/>
<rect x="105" y="575.6" width="11.8" height="12" fill="#d9d9d9"/>
<path d="M107.5 578.2L114.3 585.0M114.3 578.2L107.5 585.0" stroke="#fff" stroke-width="1.3"/>
<text x="123.8" y="585" font-size="10.6" fill="#ff6e6e" stroke="#ff6e6e" stroke-width=".25" textLength="43.7" lengthAdjust="spacingAndGlyphs">913.018M</text>
<text x="176.9" y="585" font-size="10.6" fill="#222" stroke="#222" stroke-width=".25" textLength="30" lengthAdjust="spacingAndGlyphs">1.173B</text>
</svg></body></html>
